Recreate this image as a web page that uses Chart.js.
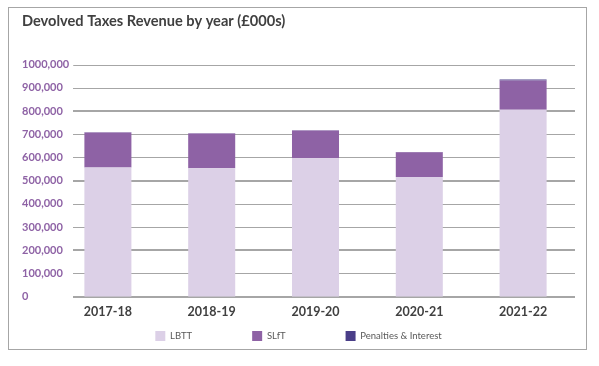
<!DOCTYPE html>
<html>
<head>
<meta charset="utf-8">
<script src="https://cdn.jsdelivr.net/npm/chart.js@4"></script>
<style>
  html, body { margin: 0; padding: 0; background: #ffffff; }
  #frame { position: absolute; left: 8px; top: 7px; width: 577px; height: 341px; border: 1px solid #a6a6a6; }
  canvas { display: block; }
</style>
</head>
<body>
<div id="frame"><canvas id="c" width="577" height="341"></canvas></div>
<script>
const categories = ['2017-18', '2018-19', '2019-20', '2020-21', '2021-22'];
const lbtt = [557000, 553000, 596000, 516000, 805000];
const slft = [150000, 150000, 120000, 106000, 126000];
const penalties = [1000, 1000, 1000, 1000, 4000];
const yTickLabels = ['0', '100,000', '200,000', '300,000', '400,000', '500,000', '600,000', '700,000', '800,000', '900,000', '1000,000'];
const seriesNames = ['LBTT', 'SLfT', 'Penalties & Interest'];
const titleText = 'Devolved Taxes Revenue by year (£000s)';

Chart.defaults.font.family = 'Lato';

const yFont = { size: 11, weight: 'bold' };
const thickLines = new Set([0, 200000, 500000, 800000]);
const gridPlugin = {
  id: 'offsetGrid',
  beforeDatasetsDraw(chart) {
    const y = chart.scales.y;
    const area = chart.chartArea;
    const ctx = chart.ctx;
    ctx.save();
    ctx.font = Chart.helpers.toFont(yFont).string;
    const labelLeft = y.right - 34;
    ctx.strokeStyle = '#a6a6a6';
    y.ticks.forEach((t, i) => {
      const py = y.getPixelForValue(t.value);
      const w = thickLines.has(t.value) ? 2 : 1;
      const labelEnd = labelLeft + ctx.measureText(yTickLabels[i]).width;
      const startX = Math.max(area.left + 17, labelEnd + 4);
      ctx.lineWidth = w;
      const yy = w === 1 ? Math.round(py) + 0.5 : Math.round(py);
      ctx.beginPath();
      ctx.moveTo(startX, yy);
      ctx.lineTo(area.right, yy);
      ctx.stroke();
    });
    ctx.restore();
  }
};

new Chart(document.getElementById('c'), {
  type: 'bar',
  data: {
    labels: categories,
    datasets: [
      { label: seriesNames[0], data: lbtt, backgroundColor: '#dcd0e7' },
      { label: seriesNames[1], data: slft, backgroundColor: '#8e62a5' },
      { label: seriesNames[2], data: penalties, backgroundColor: '#4a3e88' }
    ]
  },
  options: {
    responsive: false,
    animation: false,
    layout: { padding: { top: 0, left: 13, right: 11, bottom: -27.7 } },
    datasets: { bar: { categoryPercentage: 1, barPercentage: 0.453 } },
    scales: {
      x: {
        stacked: true,
        grid: { display: false, drawTicks: false },
        border: { display: false },
        ticks: { mirror: true, color: '#404040', font: { size: 12.5, weight: 'bold' }, padding: -22.5 },
        afterFit(scale) { scale.height = -25.7; }
      },
      y: {
        stacked: true,
        min: 0,
        max: 1000000,
        grid: { display: false, drawTicks: false },
        border: { display: false },
        ticks: {
          mirror: true,
          crossAlign: 'near',
          stepSize: 100000,
          color: '#8e62a5',
          font: yFont,
          padding: -34,
          callback: (v, i) => yTickLabels[i]
        },
        afterFit(scale) { scale.width = 34; }
      }
    },
    plugins: {
      title: {
        display: true,
        text: titleText,
        align: 'start',
        color: '#404040',
        font: { size: 14.6, weight: 'bold' },
        padding: { top: 5, bottom: 34 }
      },
      legend: {
        position: 'bottom',
        labels: {
          boxWidth: 10,
          boxHeight: 10,
          padding: 60,
          color: '#595959',
          font: { size: 9.5 }
        }
      },
      tooltip: { enabled: false }
    }
  },
  plugins: [gridPlugin]
});
</script>
</body>
</html>
